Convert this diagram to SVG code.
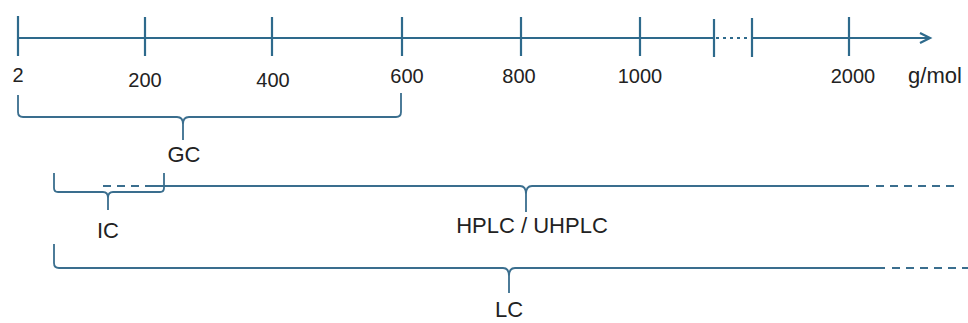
<svg xmlns="http://www.w3.org/2000/svg" width="968" height="323" viewBox="0 0 968 323">
<style>
.ax{stroke:#2e6a8c;stroke-width:2.2;fill:none}
.br{stroke:#3a6e8e;stroke-width:1.8;fill:none}
.ds{stroke:#3a6e8e;stroke-width:1.8;fill:none;stroke-dasharray:8,6}
.num{font-family:"Liberation Sans",Arial,sans-serif;font-size:20px;fill:#222;text-anchor:middle}
.lab{font-family:"Liberation Sans",Arial,sans-serif;font-size:22px;fill:#222;text-anchor:middle}
</style>
<rect width="968" height="323" fill="#fff"/>
<g id="axis">
<path class="ax" d="M18,38 H713 M751,38 H928"/>
<path class="ax" d="M716,38 H748" stroke-dasharray="3,4"/>
<path class="ax" d="M920,33 L930,38 L920,43"/>
<path class="ax" d="M18,16 V56 M145,17 V56 M272,17 V56 M402,17 V56 M521,17 V56 M640,17 V56 M714,19 V57 M752,18 V57 M849,17 V56"/>
<text class="num" x="18" y="82">2</text>
<text class="num" x="145" y="87">200</text>
<text class="num" x="273" y="87">400</text>
<text class="num" x="407" y="83">600</text>
<text class="num" x="519" y="83">800</text>
<text class="num" x="640" y="83">1000</text>
<text class="num" x="853" y="83">2000</text>
<text class="lab" x="935" y="83">g/mol</text>
</g>
<g id="connectors">
<g id="gc">
<path class="br" d="M18,95 V112 Q18,117 23,117 H177 Q183,117 183,124 Q183,117 189,117 H396 Q401,117 401,112 V93 M183,124 V140"/>
<text class="lab" x="184" y="162">GC</text>
</g>
<g id="ic">
<path class="br" d="M54,173 V188 Q54,192 58,192 H103 Q108,192 108,198 Q108,192 113,192 H160 Q164,192 164,188 V173 M108,198 V210"/>
<text class="lab" x="108" y="238">IC</text>
</g>
<g id="hplc">
<path class="ds" d="M103,186 H145"/>
<path class="br" d="M145,186 H520 Q526,186 526,194 Q526,186 532,186 H869 M526,194 V212"/>
<path class="ds" d="M876,186 H955"/>
<text class="lab" x="532" y="233">HPLC / UHPLC</text>
</g>
<g id="lc">
<path class="br" d="M54,244 V263 Q54,268 59,268 H503 Q509,268 509,276 Q509,268 515,268 H885 M509,276 V293"/>
<path class="ds" d="M892,268 H968"/>
<text class="lab" x="509" y="317">LC</text>
</g>
</g>
</svg>
